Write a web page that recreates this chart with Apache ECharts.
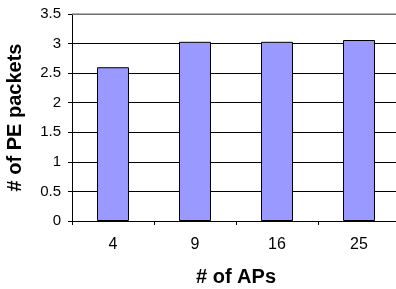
<!DOCTYPE html>
<html>
<head>
<meta charset="utf-8">
<script src="https://cdn.jsdelivr.net/npm/echarts@6/dist/echarts.min.js"></script>
<style>
    html, body { margin: 0; padding: 0; background: #fff; }
    #chart { width: 396px; height: 289px; }
</style>
</head>
<body>
<div id="chart"></div>
<script>
// Data
const categories = ['4', '9', '16', '25'];
const pePackets = [2.6, 3.03, 3.03, 3.06];
const yMax = 3.5;

const chart = echarts.init(document.getElementById('chart'));

const options = {
    animation: false,
    backgroundColor: '#fff',
    textStyle: {
        fontFamily: 'Liberation Sans, Arial, sans-serif'
    },
    grid: {
        top: 14,
        bottom: 68,
        left: 72,
        right: -4,
        outerBoundsMode: 'none'
    },
    xAxis: {
        type: 'category',
        data: categories,
        name: '# of APs',
        nameLocation: 'middle',
        nameGap: 46,
        nameTextStyle: {
            color: '#000',
            fontSize: 20,
            fontWeight: 'bold'
        },
        axisLine: {
            lineStyle: { color: '#000', width: 1 }
        },
        axisTick: {
            show: true,
            length: 4,
            lineStyle: { color: '#000' }
        },
        axisLabel: {
            color: '#000',
            fontSize: 16,
            margin: 16
        }
    },
    yAxis: {
        type: 'value',
        min: 0,
        max: yMax,
        interval: 0.5,
        name: '# of PE packets',
        nameLocation: 'middle',
        nameGap: 47,
        nameTextStyle: {
            color: '#000',
            fontSize: 20,
            fontWeight: 'bold'
        },
        axisLine: {
            show: true,
            lineStyle: { color: '#000', width: 1 }
        },
        axisTick: {
            show: true,
            length: 4,
            lineStyle: { color: '#000' }
        },
        axisLabel: {
            color: '#000',
            fontSize: 15,
            margin: 11
        },
        splitLine: {
            show: true,
            lineStyle: { color: '#000', width: 1 }
        }
    },
    series: [
        {
            type: 'bar',
            data: pePackets,
            barWidth: '39%',
            itemStyle: {
                color: '#9999ff',
                borderColor: '#000',
                borderWidth: 1
            },
            // grey top border line of the plot area
            markLine: {
                silent: true,
                symbol: 'none',
                label: { show: false },
                lineStyle: { color: '#999', type: 'solid', width: 1.5 },
                data: [{ yAxis: yMax }]
            }
        }
    ]
};

chart.setOption(options);
</script>
</body>
</html>
